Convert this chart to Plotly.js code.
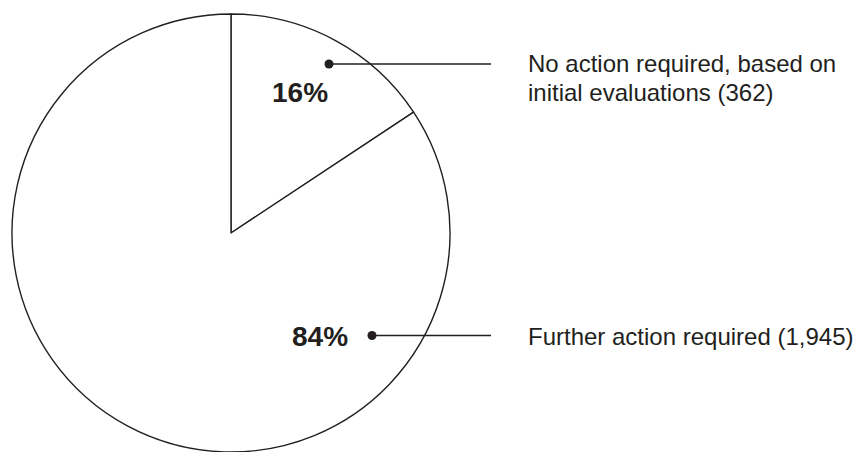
<!DOCTYPE html>
<html>
<head>
<meta charset="utf-8">
<script src="https://cdn.plot.ly/plotly-3.0.1.min.js"></script>
<style>html,body{margin:0;padding:0;background:#fff;}#chart{width:856px;height:452px;}</style>
</head>
<body>
<div id="chart"></div>
<script>
var categories = ["No action required, based on initial evaluations", "Further action required"];
var counts = [362, 1945];
var labelLines = [["No action required, based on", "initial evaluations (362)"], ["Further action required (1,945)"]];

var total = counts.reduce(function(a, b){ return a + b; }, 0);
var pctText = counts.map(function(v){ return Math.round(100 * v / total) + "%"; });

var ink = "#231f20";
var font = "Liberation Sans, Arial, Helvetica, sans-serif";

var trace = {
  type: "pie",
  labels: categories,
  values: counts,
  sort: false,
  direction: "clockwise",
  rotation: 0,
  textinfo: "none",
  hoverinfo: "label+value+percent",
  marker: { colors: ["#ffffff", "#ffffff"], line: { color: ink, width: 1.4 } },
  domain: { x: [12 / 856, 450 / 856], y: [0, 438 / 452] },
  showlegend: false
};

// leader positions (pixel space on hidden axes)
var dots = [{x: 329, y: 64}, {x: 372, y: 335.5}];
var lineEnd = 491;
var pctPos = [{x: 300, y: 92.5}, {x: 319.5, y: 336.5}];
var textX = 527;
var textY = [[63, 92], [336]];

var shapes = [];
var annotations = [];
for (var i = 0; i < counts.length; i++) {
  shapes.push({ type: "line", xref: "x", yref: "y", x0: dots[i].x, x1: lineEnd, y0: dots[i].y, y1: dots[i].y,
    line: { color: ink, width: 1.3 } });
  shapes.push({ type: "circle", xref: "x", yref: "y", x0: dots[i].x - 4.5, x1: dots[i].x + 4.5,
    y0: dots[i].y - 4.5, y1: dots[i].y + 4.5, fillcolor: ink, line: { width: 0 } });
  annotations.push({ xref: "x", yref: "y", x: pctPos[i].x, y: pctPos[i].y, text: "<b>" + pctText[i] + "</b>",
    showarrow: false, xanchor: "center", yanchor: "middle", font: { family: font, size: 28, color: ink } });
  for (var j = 0; j < labelLines[i].length; j++) {
    annotations.push({ xref: "x", yref: "y", x: textX, y: textY[i][j], text: labelLines[i][j],
      showarrow: false, xanchor: "left", yanchor: "middle", borderpad: 0,
      font: { family: font, size: 24, color: ink } });
  }
}

var layout = {
  width: 856, height: 452,
  margin: { l: 0, r: 0, t: 0, b: 0 },
  paper_bgcolor: "#ffffff", plot_bgcolor: "rgba(0,0,0,0)",
  xaxis: { range: [0, 856], visible: false, fixedrange: true },
  yaxis: { range: [452, 0], visible: false, fixedrange: true },
  shapes: shapes,
  annotations: annotations,
  showlegend: false
};

Plotly.newPlot("chart", [trace], layout, { displayModeBar: false, staticPlot: true });
</script>
</body>
</html>
